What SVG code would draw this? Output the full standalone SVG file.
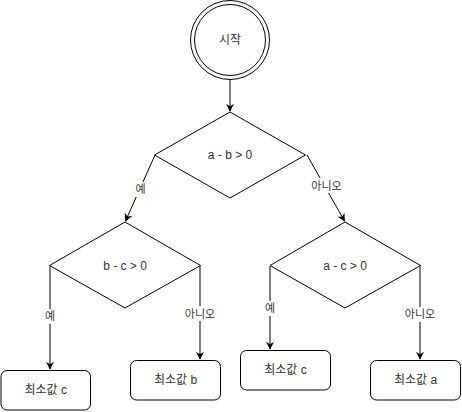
<svg xmlns="http://www.w3.org/2000/svg" width="462" height="412" viewBox="0 0 462 412">
  <defs>
    <marker id="arrow" viewBox="0 0 10 10" refX="9" refY="5" markerWidth="8" markerHeight="8" markerUnits="userSpaceOnUse" orient="auto">
      <path d="M0,0 L10,5 L0,10 L3,5 Z" fill="#000"/>
    </marker>
  </defs>
  <style>
    .shape { fill: #fff; stroke: #000; stroke-width: 1; }
    .txt { font-family: "Liberation Sans", "Noto Sans CJK KR", sans-serif; font-size: 12px; fill: #333; text-anchor: middle; dominant-baseline: central; }
    .lbl { font-family: "Liberation Sans", "Noto Sans CJK KR", sans-serif; font-size: 11px; fill: #333; text-anchor: middle; dominant-baseline: central; }
    .edge { fill: none; stroke: #000; stroke-width: 1; marker-end: url(#arrow); }
    .lblbg { fill: #fff; }
  </style>

  <!-- connectors -->
  <g id="edges">
    <line class="edge" x1="230" y1="80" x2="230" y2="111"/>
    <line class="edge" x1="155" y1="155" x2="125.5" y2="221"/>
    <line class="edge" x1="307" y1="155" x2="344.5" y2="221"/>
    <line class="edge" x1="50" y1="266" x2="50" y2="369"/>
    <line class="edge" x1="200" y1="266" x2="200" y2="359"/>
    <line class="edge" x1="270" y1="266" x2="270" y2="349"/>
    <line class="edge" x1="420" y1="266" x2="420" y2="359"/>

    <rect class="lblbg" x="134" y="182" width="13" height="15"/>
    <text class="lbl" x="140.5" y="189">예</text>
    <rect class="lblbg" x="310" y="178" width="33" height="15"/>
    <text class="lbl" x="326.5" y="185.5">아니오</text>
    <rect class="lblbg" x="44" y="309" width="13" height="15"/>
    <text class="lbl" x="50" y="316">예</text>
    <rect class="lblbg" x="184" y="306" width="33" height="15"/>
    <text class="lbl" x="200" y="313.5">아니오</text>
    <rect class="lblbg" x="264" y="301" width="13" height="15"/>
    <text class="lbl" x="270" y="308">예</text>
    <rect class="lblbg" x="404" y="307" width="33" height="15"/>
    <text class="lbl" x="420" y="314">아니오</text>
  </g>

  <!-- start -->
  <g id="start">
    <circle class="shape" cx="230" cy="40" r="39.5"/>
    <circle class="shape" cx="230" cy="40" r="35.5"/>
    <text class="txt" x="230" y="40">시작</text>
  </g>

  <!-- decisions -->
  <g id="cond-ab">
    <polygon class="shape" points="230,112 305.5,155 230,198 154.5,155"/>
    <text class="txt" x="230" y="155">a - b &gt; 0</text>
  </g>
  <g id="cond-bc">
    <polygon class="shape" points="125,222 200.5,265.5 125,308 49.5,265.5"/>
    <text class="txt" x="125" y="265.5">b - c &gt; 0</text>
  </g>
  <g id="cond-ac">
    <polygon class="shape" points="345,222 420.5,265.5 345,308 270,265.5"/>
    <text class="txt" x="345" y="265.5">a - c &gt; 0</text>
  </g>

  <!-- results -->
  <g id="min-c-left">
    <rect class="shape" x="1" y="370.5" width="89.5" height="39.5" rx="6"/>
    <text class="txt" x="45.75" y="390">최소값 c</text>
  </g>
  <g id="min-b">
    <rect class="shape" x="130.5" y="360.5" width="90" height="39.5" rx="6"/>
    <text class="txt" x="175.5" y="380">최소값 b</text>
  </g>
  <g id="min-c-right">
    <rect class="shape" x="240.5" y="350.5" width="90" height="39.5" rx="6"/>
    <text class="txt" x="285.5" y="370">최소값 c</text>
  </g>
  <g id="min-a">
    <rect class="shape" x="370.5" y="360.5" width="90" height="39.5" rx="6"/>
    <text class="txt" x="415.5" y="380">최소값 a</text>
  </g>
</svg>
